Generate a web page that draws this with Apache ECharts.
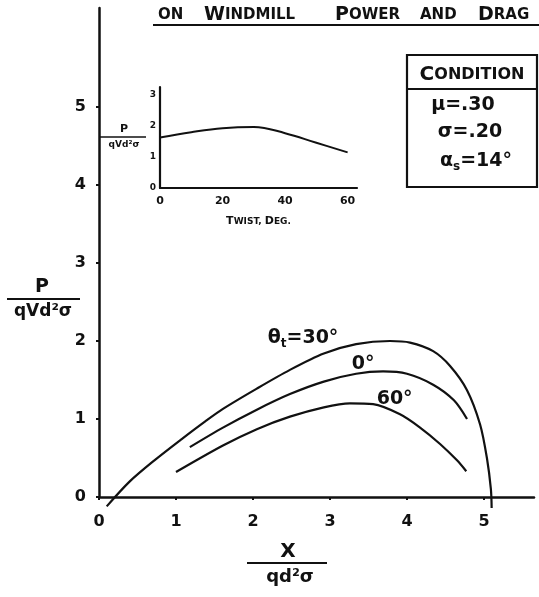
<!DOCTYPE html>
<html>
<head>
<meta charset="utf-8">
<script src="https://cdn.jsdelivr.net/npm/echarts@6/dist/echarts.min.js"></script>
<style>
  html, body { margin: 0; padding: 0; background: #fff; }
  #c { width: 539px; height: 597px; }
</style>
</head>
<body>
<div id="c"></div>
<script>
// Windmill power coefficient P/(qVd²σ) against X/(qd²σ) for three blade twist angles
const twist30 = [[0.10,-0.12],[0.40,0.20],[0.72,0.47],[1.07,0.74],[1.38,0.97],[1.61,1.13],
  [2.05,1.39],[2.48,1.63],[2.92,1.84],[3.34,1.96],[3.78,2.00],[4.04,1.98],[4.34,1.87],[4.56,1.68],
  [4.78,1.37],[4.95,0.93],[5.04,0.49],[5.09,0.10],[5.10,-0.14]];
const twist0 = [[1.18,0.64],[1.61,0.89],[2.05,1.12],[2.48,1.32],[2.92,1.48],[3.34,1.58],[3.69,1.61],
  [4.00,1.58],[4.34,1.44],[4.61,1.24],[4.78,1.00]];
const twist60 = [[1.00,0.32],[1.61,0.66],[2.05,0.87],[2.48,1.03],[2.92,1.15],[3.26,1.20],[3.56,1.19],
  [3.91,1.06],[4.17,0.89],[4.43,0.68],[4.65,0.47],[4.77,0.33]];
const curveLabels = ['{g|θ}{sub|t}{g|=30°}', '{g|0°}', '{g|60°}'];
const xTicks = [0, 1, 2, 3, 4, 5];
const yTicks = [0, 1, 2, 3, 4, 5];

// Inset: peak power against twist angle
const insetTwist = [0, 10, 20, 30, 40, 50, 60];
const insetPower = [1.63, 1.80, 1.93, 1.97, 1.77, 1.46, 1.15];
const insetXTicks = [0, 20, 40, 60];
const insetYTicks = [0, 1, 2, 3];

// Test conditions
const conditionLines = ['{g|μ=.30}', '{g|σ=.20}', '{g|α}{sub|s}{g|=14°}'];

const FONT = "'DejaVu Sans', sans-serif";
const INK = '#111';
const richHand = {
  g:   { fontFamily: FONT, fontWeight: 'bold', fontSize: 19, color: INK },
  sub: { fontFamily: FONT, fontWeight: 'bold', fontSize: 12, color: INK, padding: [12, 0, 0, 0] },
  b:   { fontFamily: FONT, fontWeight: 'bold', fontSize: 19, color: INK },
  s:   { fontFamily: FONT, fontWeight: 'bold', fontSize: 15, color: INK },
  cb:  { fontFamily: FONT, fontWeight: 'bold', fontSize: 20, color: INK },
  cs:  { fontFamily: FONT, fontWeight: 'bold', fontSize: 16, color: INK }
};
const labelAnchors = [[2.65, 2.04], [3.43, 1.71], [3.84, 1.26]];

const chart = echarts.init(document.getElementById('c'), null, { renderer: 'canvas' });

function curve(name, data, idx) {
  return {
    type: 'line', name, data, xAxisIndex: 0, yAxisIndex: 0,
    smooth: 0.3, showSymbol: false, symbol: 'none', clip: false,
    lineStyle: { color: INK, width: 2.2 },
    markPoint: {
      symbol: 'circle', symbolSize: 1, silent: true,
      itemStyle: { color: 'transparent' },
      data: [{ coord: labelAnchors[idx] }],
      label: { show: true, position: 'inside', formatter: () => curveLabels[idx], rich: richHand }
    }
  };
}

function txt(text, x, y, size, align, extra) {
  return {
    type: 'text', silent: true,
    style: Object.assign({
      text, x, y, align: align || 'center', verticalAlign: 'middle',
      fill: INK, font: 'bold ' + size + 'px ' + FONT
    }, extra || {})
  };
}
function rtxt(text, x, y, align) {
  return {
    type: 'text', silent: true,
    style: { text, x, y, align: align || 'center', verticalAlign: 'middle', rich: richHand, fill: INK }
  };
}
function seg(x1, y1, x2, y2, w) {
  return { type: 'line', silent: true, shape: { x1, y1, x2, y2 }, style: { stroke: INK, lineWidth: w || 2 } };
}

const axisFont = { fontFamily: FONT, fontWeight: 'bold', color: INK };

const option = {
  animation: false,
  backgroundColor: '#fff',
  grid: [
    { left: 99, top: 8, width: 435, height: 489 },
    { left: 160, top: 87, width: 197, height: 101 }
  ],
  xAxis: [
    {
      type: 'value', gridIndex: 0, min: 0, max: 5.65, interval: 1,
      axisLine: { lineStyle: { color: INK, width: 2.5 } },
      axisTick: { length: 3, lineStyle: { color: INK, width: 2 }, customValues: xTicks },
      splitLine: { show: false },
      axisLabel: Object.assign({ customValues: xTicks, margin: 17, fontSize: 16 }, axisFont)
    },
    {
      type: 'value', gridIndex: 1, min: 0, max: 63, interval: 20,
      axisLine: { lineStyle: { color: INK, width: 2.2 } },
      axisTick: { show: false },
      splitLine: { show: false },
      axisLabel: Object.assign({ customValues: insetXTicks, margin: 8, fontSize: 11 }, axisFont),
      name: '{b|T}{s|WIST, }{b|D}{s|EG.}', nameLocation: 'middle', nameGap: 28,
      nameTextStyle: {
        rich: {
          b: { fontFamily: FONT, fontWeight: 'bold', fontSize: 11, color: INK },
          s: { fontFamily: FONT, fontWeight: 'bold', fontSize: 9, color: INK }
        }
      }
    }
  ],
  yAxis: [
    {
      type: 'value', gridIndex: 0, min: 0, max: 6.27, interval: 1,
      axisLine: { show: true, lineStyle: { color: INK, width: 2.5 } },
      axisTick: { show: true, length: 3, lineStyle: { color: INK, width: 2 }, customValues: yTicks },
      splitLine: { show: false },
      axisLabel: Object.assign({ customValues: yTicks, margin: 13, fontSize: 16, padding: [0, 0, 8, 0] }, axisFont)
    },
    {
      type: 'value', gridIndex: 1, min: 0, max: 3.26, interval: 1,
      axisLine: { show: true, lineStyle: { color: INK, width: 2.2 } },
      axisTick: { show: false },
      splitLine: { show: false },
      axisLabel: Object.assign({ customValues: insetYTicks, margin: 4, fontSize: 9 }, axisFont)
    }
  ],
  series: [
    curve('θt = 30°', twist30, 0),
    curve('θt = 0°', twist0, 1),
    curve('θt = 60°', twist60, 2),
    {
      type: 'line', name: 'peak power', xAxisIndex: 1, yAxisIndex: 1,
      data: insetTwist.map((t, i) => [t, insetPower[i]]),
      smooth: 0.4, showSymbol: false, symbol: 'none',
      lineStyle: { color: INK, width: 2 }
    }
  ],
  graphic: [
    // heading, underlined, running off the right edge
    rtxt('{s|ON}', 158, 15, 'left'),
    rtxt('{b|W}{s|INDMILL}', 204, 15, 'left'),
    rtxt('{b|P}{s|OWER}', 335, 15, 'left'),
    rtxt('{s|AND}', 420, 15, 'left'),
    rtxt('{b|D}{s|RAG}', 478, 15, 'left'),
    seg(153, 25, 539, 25, 1.8),

    // condition box
    { type: 'rect', silent: true, shape: { x: 407, y: 55, width: 130, height: 132 },
      style: { fill: 'none', stroke: INK, lineWidth: 2.2 } },
    seg(407, 89, 537, 89, 2),
    rtxt('{cb|C}{cs|ONDITION}', 472, 75),
    rtxt(conditionLines[0], 463, 105),
    rtxt(conditionLines[1], 470, 132),
    rtxt(conditionLines[2], 476, 161),

    // main y-axis title
    txt('P', 42, 287, 19),
    seg(7, 299, 80, 299, 2),
    txt('qVd²σ', 43, 312, 17),

    // main x-axis title
    txt('X', 288, 552, 20),
    seg(247, 563, 327, 563, 2),
    txt('qd²σ', 290, 577, 18),

    // inset y-axis title
    txt('P', 124, 129, 11),
    seg(100, 137, 146, 137, 1.6),
    txt('qVd²σ', 124, 145, 9)
  ]
};

chart.setOption(option);
</script>
</body>
</html>
